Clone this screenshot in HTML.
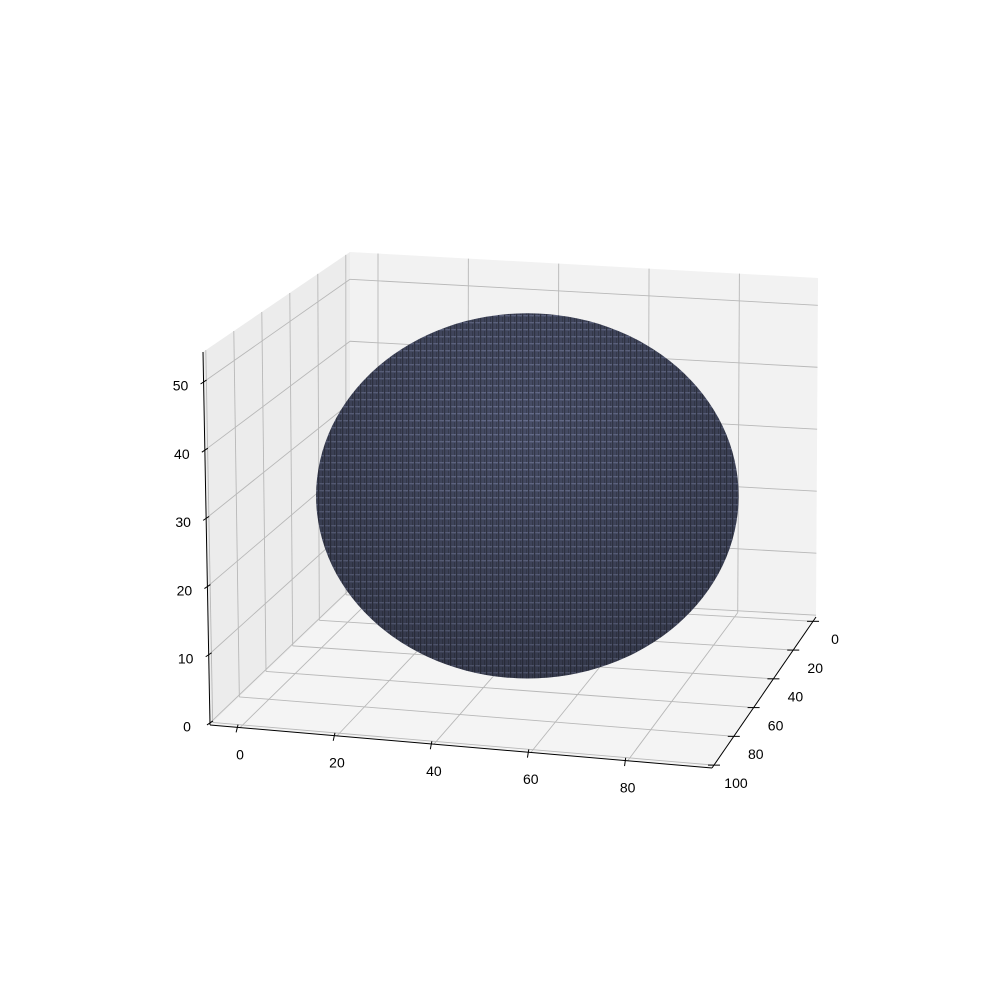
<!DOCTYPE html>
<html><head><meta charset="utf-8"><style>
html,body{margin:0;padding:0;background:#fff;width:1000px;height:1000px;overflow:hidden}
text{font-family:"Liberation Sans","DejaVu Sans",sans-serif;font-size:14px;fill:#000}
</style></head><body>
<svg id="chart" width="1000" height="1000" viewBox="0 0 1000 1000" xmlns="http://www.w3.org/2000/svg">
<defs>
<pattern id="vox" width="6" height="7" patternUnits="userSpaceOnUse">
<rect width="6" height="7" fill="#474d66"/>
<rect x="0" y="0" width="6" height="1.3" fill="#656c8a"/>
<rect x="0" y="0" width="1.2" height="7" fill="#343849"/>
<rect x="4" y="2" width="1" height="5" fill="#3a3f52"/>
</pattern>
<radialGradient id="shade" cx="0.5" cy="0.3" r="0.75">
<stop offset="0" stop-color="#000" stop-opacity="0"/>
<stop offset="1" stop-color="#000" stop-opacity="0.28"/>
</radialGradient>
</defs>
<g id="panes"></g>
<g id="grid"></g>
<g id="sphere"></g>
<g id="axes"></g>
</svg>
<script>
const xTicks = [0, 20, 40, 60, 80];
const yTicks = [0, 20, 40, 60, 80, 100];
const zTicks = [0, 10, 20, 30, 40, 50];
const sphereCenter = [47, 50, 26.7];
const sphereRadius = 45;

const XMIN=-6.2, XMAX=97.4, YMIN=-3, YMAX=102, ZMIN=-0.3, ZMAX=54.4;
const C = {
 '000':[350,591],'100':[816,617],'010':[210,725],'110':[712,768],
 '001':[350,252],'101':[818,278],'011':[203,352],'111':[0,0]
};
C['111']=[C['110'][0]+(C['101'][0]-C['100'][0])+(C['011'][0]-C['010'][0])*0.3, C['110'][1]+(C['011'][1]-C['010'][1])*1.1];
function P(x,y,z){
 const u=(x-XMIN)/(XMAX-XMIN), v=(y-YMIN)/(YMAX-YMIN), w=(z-ZMIN)/(ZMAX-ZMIN);
 let r=[0,0];
 for(const a of [0,1])for(const b of [0,1])for(const c of [0,1]){
  const k=(a?u:1-u)*(b?v:1-v)*(c?w:1-w);const p=C[''+a+b+c];
  r[0]+=k*p[0];r[1]+=k*p[1];}
 return r;
}
const NS='http://www.w3.org/2000/svg';
function mk(tag,attrs,parent){const e=document.createElementNS(NS,tag);for(const k in attrs)e.setAttribute(k,attrs[k]);parent.appendChild(e);return e;}
function poly(pts){return pts.map(p=>p.join(',')).join(' ');}
const panes=document.getElementById('panes'),grid=document.getElementById('grid'),axes=document.getElementById('axes'),sph=document.getElementById('sphere');
let e;
e=mk('polygon',{points:poly([P(XMIN,YMIN,ZMIN),P(XMAX,YMIN,ZMIN),P(XMAX,YMIN,ZMAX),P(XMIN,YMIN,ZMAX)]),fill:'#f2f2f2'},panes);

e=mk('polygon',{points:poly([P(XMIN,YMIN,ZMIN),P(XMIN,YMAX,ZMIN),P(XMIN,YMAX,ZMAX),P(XMIN,YMIN,ZMAX)]),fill:'#ececec'},panes);

e=mk('polygon',{points:poly([P(XMIN,YMIN,ZMIN),P(XMAX,YMIN,ZMIN),P(XMAX,YMAX,ZMIN),P(XMIN,YMAX,ZMIN)]),fill:'#f4f4f4'},panes);

function gl(a,b,name){const l=mk('line',{x1:a[0],y1:a[1],x2:b[0],y2:b[1],stroke:'#b8b8b8','stroke-width':0.9},grid);
 }
xTicks.forEach(x=>{gl(P(x,YMIN,ZMIN),P(x,YMAX,ZMIN),'x-grid-floor');gl(P(x,YMIN,ZMIN),P(x,YMIN,ZMAX),'x-grid-back');});
yTicks.forEach(y=>{gl(P(XMIN,y,ZMIN),P(XMAX,y,ZMIN),'y-grid-floor');gl(P(XMIN,y,ZMIN),P(XMIN,y,ZMAX),'y-grid-side');});
zTicks.forEach(z=>{gl(P(XMIN,YMIN,z),P(XMAX,YMIN,z),'z-grid-back');gl(P(XMIN,YMIN,z),P(XMIN,YMAX,z),'z-grid-side');});
const c=P(sphereCenter[0],sphereCenter[1],sphereCenter[2]);
const rx=(P(sphereCenter[0]+sphereRadius,sphereCenter[1],sphereCenter[2])[0]-P(sphereCenter[0]-sphereRadius,sphereCenter[1],sphereCenter[2])[0])/2;
const ry=sphereRadius*370/(ZMAX-ZMIN)*0.6;
e=mk('ellipse',{cx:c[0],cy:c[1],rx:rx,ry:ry,fill:'url(#vox)'},sph);

e=mk('ellipse',{cx:c[0],cy:c[1],rx:rx,ry:ry,fill:'url(#shade)'},sph);

function al(a,b,name){const l=mk('line',{x1:a[0],y1:a[1],x2:b[0],y2:b[1],stroke:'#000','stroke-width':1},axes);
 }
al(P(XMIN,YMAX,ZMIN),P(XMAX,YMAX,ZMIN),'x-axis-line');
al(P(XMAX,YMIN,ZMIN),P(XMAX,YMAX,ZMIN),'y-axis-line');
al(P(XMIN,YMAX,ZMIN),P(XMIN,YMAX,ZMAX),'z-axis-line');
function lab(p,t,name){const s=mk('text',{x:p[0],y:p[1],'text-anchor':'middle','dominant-baseline':'middle'},axes);s.textContent=t;
 }
xTicks.forEach(x=>{const a=P(x,YMAX,ZMIN),b=P(x,YMAX+3,ZMIN);al([a[0]-2,a[1]-3],[b[0],b[1]+1],'x-tick');lab([a[0],a[1]+28],x,'x-tick-label');});
yTicks.forEach(y=>{const a=P(XMAX,y,ZMIN);al([a[0]-6,a[1]],[a[0]+6,a[1]],'y-tick');lab([a[0]+22,a[1]+19],y,'y-tick-label');});
zTicks.forEach(z=>{const a=P(XMIN,YMAX,z);al([a[0]-3,a[1]+2],[a[0]+3,a[1]-2],'z-tick');lab([a[0]-23,a[1]+5],z,'z-tick-label');});
</script>
</body></html>
